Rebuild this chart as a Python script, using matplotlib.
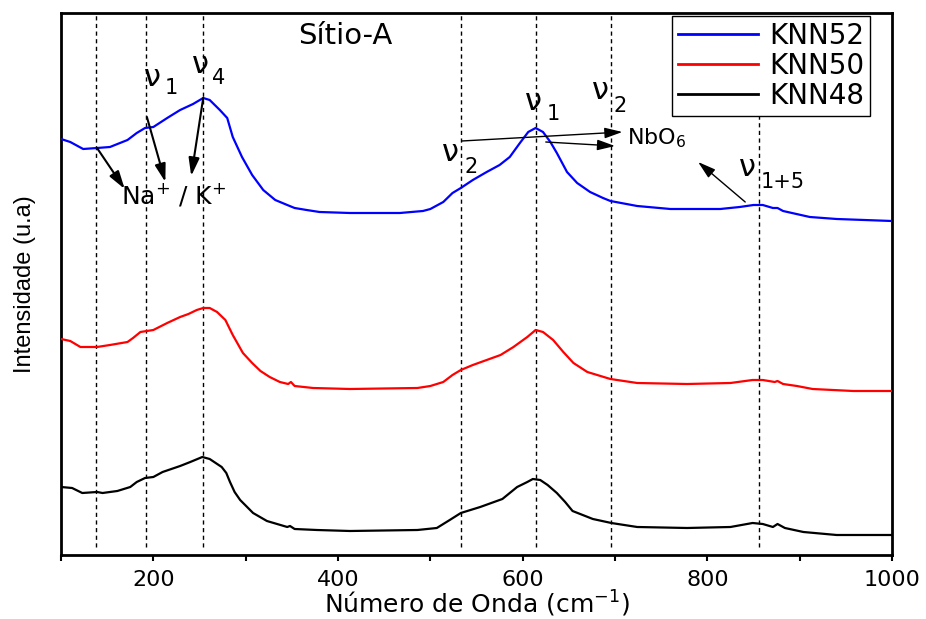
import matplotlib
matplotlib.use('Agg')
import matplotlib.pyplot as plt
from matplotlib.ticker import MultipleLocator, NullLocator

plt.rcParams['font.family'] = 'DejaVu Sans'
plt.rcParams['mathtext.default'] = 'regular'

# espectros Raman (u.a., deslocados verticalmente)
knn52_x = [100, 110, 124, 139, 153, 172, 182, 191, 200, 215, 229, 243, 254, 261, 272, 280, 286, 296,
           307, 319, 332, 345, 353, 366, 380, 413, 467, 492, 500, 514, 524, 533, 546, 561, 575, 586,
           597, 606, 614, 622, 630, 637, 648, 659, 673, 687, 695, 724, 760, 814, 835, 850, 860, 871,
           876, 882, 911, 940, 1000]
knn52_y = [416, 413, 406, 407, 408, 415, 422, 427, 428, 437, 445, 451, 457, 455, 445, 437, 418, 398,
           380, 365, 355, 350, 347, 345, 343, 342, 342, 344, 346, 353, 362, 367, 375, 383, 390, 398,
           412, 423, 427, 423, 413, 402, 383, 372, 363, 357, 354, 349, 346, 346, 348, 350, 350, 347,
           347, 344, 338, 336, 334]

knn50_x = [100, 110, 121, 139, 153, 172, 178, 186, 193, 200, 215, 229, 238, 247, 254, 261, 269, 278,
           286, 297, 307, 316, 326, 337, 346, 349, 353, 373, 413, 486, 500, 514, 524, 533, 546, 561,
           576, 590, 605, 614, 622, 633, 644, 655, 670, 695, 724, 778, 825, 849, 860, 873, 876, 882,
           897, 914, 958, 1000]
knn50_y = [216, 214, 208, 208, 210, 213, 217, 223, 224, 225, 232, 238, 241, 245, 247, 247, 243, 235,
           220, 202, 192, 184, 178, 173, 171, 173, 169, 167, 166, 167, 169, 173, 180, 185, 190, 195,
           200, 208, 218, 225, 223, 215, 203, 192, 183, 176, 172, 171, 172, 175, 175, 173, 174, 171,
           169, 166, 164, 164]

knn48_x = [100, 112, 123, 139, 145, 161, 175, 182, 191, 200, 210, 229, 240, 253, 261, 274, 279, 283,
           288, 294, 308, 323, 345, 348, 353, 377, 413, 486, 507, 521, 533, 554, 578, 594, 605, 611,
           619, 627, 637, 646, 654, 676, 696, 724, 778, 825, 849, 860, 871, 876, 884, 904, 940, 1000]
knn48_y = [68, 67, 62, 63, 62, 64, 68, 73, 77, 78, 83, 89, 93, 98, 96, 88, 82, 73,
           63, 55, 42, 34, 28, 29, 26, 25, 24, 25, 27, 35, 42, 48, 56, 68, 73, 76,
           75, 70, 62, 53, 44, 36, 32, 28, 27, 28, 32, 31, 28, 31, 27, 23, 20, 20]

labels = ['KNN52', 'KNN50', 'KNN48']
colors = ['#0000ff', '#ff0000', '#000000']

# posicoes dos modos vibracionais
modos = [138, 192, 254, 533, 614, 696, 856]

fig = plt.figure(figsize=(9.26, 6.19), dpi=100)
ax = fig.add_axes([0.0659, 0.1034, 0.8974, 0.8756])

ax.vlines(modos, 8, 542, colors='k', linestyles=(0, (3, 2.5)), lw=1, zorder=1)

for xs, ys, lab, c in zip([knn52_x, knn50_x, knn48_x], [knn52_y, knn50_y, knn48_y], labels, colors):
    ax.plot(xs, ys, color=c, lw=1.6, label=lab, zorder=3)

ax.set_xlim(100, 1000)
ax.set_ylim(0, 542)
ax.xaxis.set_major_locator(MultipleLocator(200))
ax.xaxis.set_minor_locator(MultipleLocator(100))
ax.yaxis.set_major_locator(NullLocator())
ax.tick_params(axis='x', which='both', direction='out', length=4, width=1.5,
               labelsize=16, pad=7, top=False)
for s in ax.spines.values():
    s.set_linewidth(2)

ax.set_xlabel('Número de Onda (cm$^{-1}$)', fontsize=18, labelpad=-1)
ax.set_ylabel('Intensidade (u.a)', fontsize=17, family='Liberation Sans', labelpad=18)

leg = ax.legend(loc='upper right', bbox_to_anchor=(870 / 926, 1 - 16 / 619),
                bbox_transform=fig.transFigure, borderaxespad=0, fontsize=20,
                handlelength=2.9, handletextpad=0.4, labelspacing=0.08, borderpad=0.2,
                fancybox=False, framealpha=1, edgecolor='k')
leg.get_frame().set_linewidth(1)
for h in leg.get_lines():
    h.set_linewidth(2)

ax.text(408, 519, 'Sítio-A', fontsize=21, ha='center', va='center')

# rotulos nu com subscrito
nus = [(199, 477, '1', 219, 467), (251, 490, '4', 271, 477),
       (522, 402, '2', 544, 388), (612, 453, '1', 633, 441),
       (684, 464, '2', 705, 449), (843, 387, '1+5', 882, 373)]
for x, y, sub, xs, ys in nus:
    ax.text(x, y, 'ν', fontsize=22, ha='center', va='center')
    ax.text(xs, ys, sub, fontsize=15, ha='center', va='center')

ax.text(222, 360, 'Na$^{+}$ / K$^{+}$', fontsize=18, ha='center', va='center')
ax.text(713, 417, 'NbO$_6$', fontsize=16, ha='left', va='center')

seta = dict(arrowstyle='-|>,head_length=0.6,head_width=0.18', color='k',
            lw=1.5, mutation_scale=18, shrinkA=0, shrinkB=0)
seta_fina = dict(seta, lw=1)
for (x0, y0), (x1, y1) in [((139, 407), (169, 366)), ((193, 438), (213, 373)),
                           ((254, 457), (241, 379))]:
    ax.annotate('', xy=(x1, y1), xytext=(x0, y0), arrowprops=seta)
for (x0, y0), (x1, y1) in [((534, 414), (708, 423)), ((625, 413), (700, 409)),
                           ((841, 353), (790, 393))]:
    ax.annotate('', xy=(x1, y1), xytext=(x0, y0), arrowprops=seta_fina)

fig.savefig('out.png', dpi=100)
